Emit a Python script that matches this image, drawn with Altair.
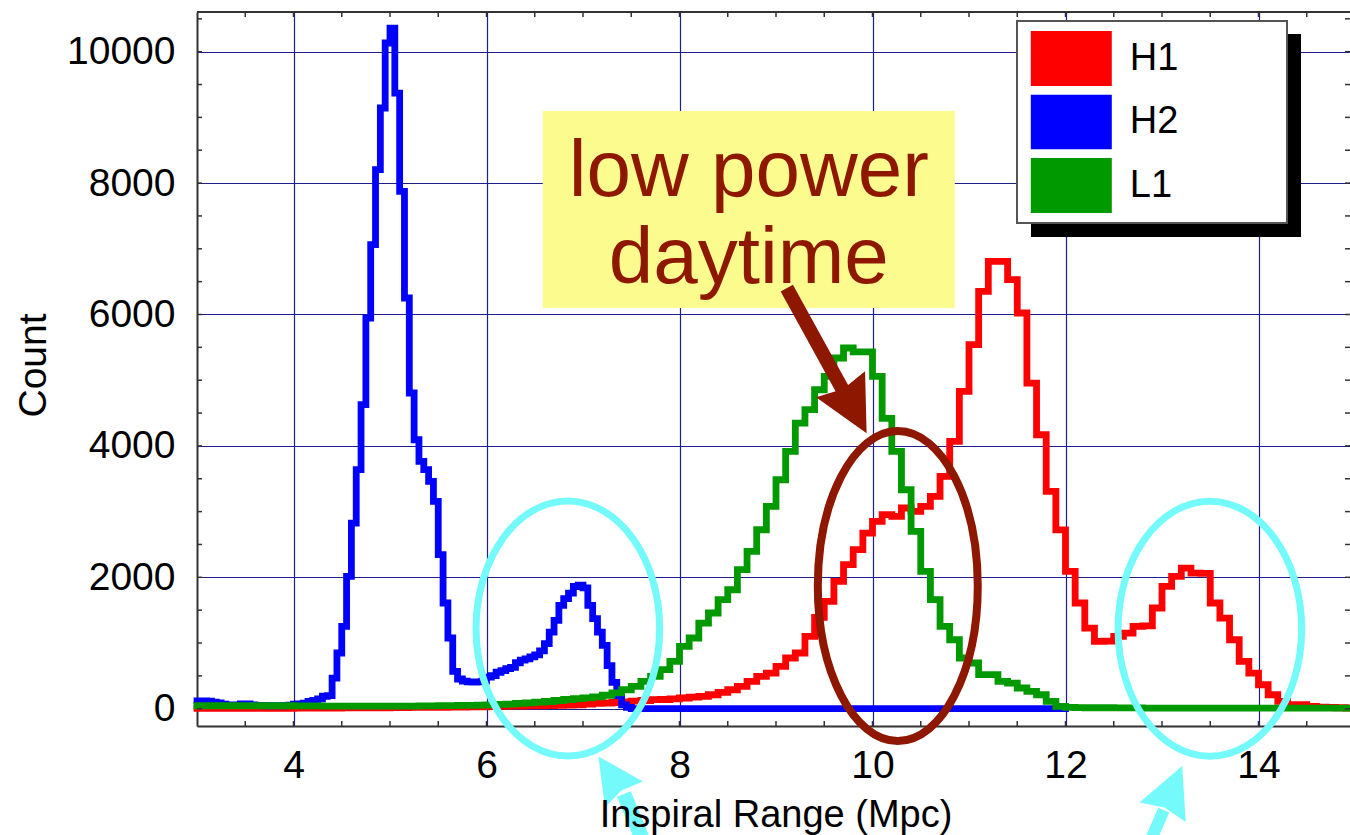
import altair as alt
import pandas as pd

FONT = "Liberation Sans"

# ---------------- histogram data ----------------
BIN_START = 3.0
WIDE_BIN = 0.1     # H1, L1 bin width (Mpc)
NARROW_BIN = 0.05  # H2 bin width (Mpc)

h1_counts = [
    5, 5, 5, 5, 5, 5, 5, 5, 5, 5,
    8, 8, 10, 10, 10, 12, 12, 12, 15, 15,
    18, 18, 20, 20, 22, 22, 25, 25, 28, 30,
    32, 35, 38, 40, 42, 45, 48, 52, 56, 60,
    70, 80, 87, 95, 105, 115, 125, 137, 140, 150,
    163, 175, 189, 213, 250, 289, 341, 417, 493, 543,
    645, 772, 848, 1102, 1390, 1634, 1939, 2192, 2420, 2674,
    2852, 2953, 2928, 3055, 3004, 3080, 3233, 3537, 4070, 4831,
    5540, 6353, 6810, 6810, 6530, 6023, 4957, 4170, 3309, 2721,
    2091, 1609, 1228, 1026, 1030, 1102, 1152, 1254, 1260, 1533,
    1863, 2015, 2141, 2065, 2060, 1609, 1380, 1050, 721, 543,
    365, 213, 112, 61, 61, 36, 25, 20, 15, 10,
]

l1_counts = [
    45, 45, 45, 45, 45, 45, 45, 45, 45, 45,
    42, 42, 42, 40, 40, 40, 40, 40, 40, 40,
    40, 40, 40, 42, 44, 46, 48, 50, 52, 55,
    60, 65, 70, 80, 90, 100, 110, 125, 140, 155,
    165, 180, 205, 240, 289, 341, 417, 493, 594, 721,
    950, 1076, 1304, 1457, 1659, 1811, 2116, 2396, 2724, 3080,
    3485, 3918, 4348, 4551, 4855, 5059, 5338, 5490, 5430, 5430,
    5059, 4420, 3918, 3333, 2700, 2091, 1659, 1254, 1050, 772,
    696, 518, 518, 417, 391, 315, 265, 213, 112, 36,
    20, 18, 15, 15, 15, 12, 12, 12, 10, 10,
    10, 10, 10, 10, 10, 10, 10, 10, 10, 10,
    10, 10, 10, 10, 10, 10, 10, 10, 10, 10,
]

h2_counts = [
    120, 120, 115, 100, 90, 70, 60, 55, 60, 75,
    75, 60, 50, 50, 45, 45, 45, 45, 50, 55,
    70, 75, 85, 110, 125, 150, 190, 200, 467, 848,
    1254, 2015, 2826, 3638, 4627, 5946, 7062, 8204, 9143, 10132,
    10360, 9370, 7875, 6251, 4805, 4094, 3765, 3638, 3461, 3157,
    2344, 1609, 1076, 569, 452, 420, 410, 405, 410, 420,
    480, 505, 555, 580, 610, 630, 700, 740, 760, 790,
    820, 880, 990, 1166, 1345, 1574, 1676, 1760, 1860, 1880,
    1840, 1574, 1370, 1166, 963, 657, 402, 199, 60, 20,
]
h2_flat_count = 0
h2_end = 12.0
h1_end = 15.0
l1_end = 15.0

series_names = ["H1", "H2", "L1"]
series_colors = ["#ff0000", "#0000ff", "#009900"]

# axis ticks / labels
x_label_values = [4, 6, 8, 10, 12, 14]
y_label_values = [0, 2000, 4000, 6000, 8000, 10000]
x_tick_values = [3.5, 4, 4.5, 5, 5.5, 6, 6.5, 7, 7.5, 8, 8.5, 9, 9.5, 10, 10.5,
                 11, 11.5, 12, 12.5, 13, 13.5, 14, 14.5]
y_tick_values = [0, 500, 1000, 1500, 2000, 2500, 3000, 3500, 4000, 4500, 5000,
                 5500, 6000, 6500, 7000, 7500, 8000, 8500, 9000, 9500, 10000, 10500]
x_title = "Inspiral Range (Mpc)"
y_title = "Count"

# annotations (data coordinates)
note_box = {"x1": 6.583, "x2": 10.853, "y1": 6099, "y2": 9097}
note_lines = ["low power", "daytime"]
note_x = 8.718
note_y = [7803, 6479]
brown_ellipse = {"x": 10.262, "y": 1867}
brown_shaft = {"x": 9.112, "y": 6403, "x2": 9.692, "y2": 4851}
brown_head = {"x": 9.804, "y": 4566}
cyan_ellipse_x = [6.843, 13.496]
cyan_ellipse_y = [1221, 1216]
cyan_shaft_x = [7.424, 13.018]
cyan_shaft_y = [-1298, -1542]
cyan_shaft_x2 = [7.703, 12.795]
cyan_shaft_y2 = [-2303, -2303]
cyan_shaft_w = [15, 12]
cyan_head_x = [7.292, 13.108]
cyan_head_y = [-1015, -1224]
cyan_head_angle = [326, 23]
cyan_head_size = [2100, 2520]

BROWN = "#8e1700"
CYAN = "#74fafa"
GRID = "#1e1e8c"
FRAME = "#333333"

W, H = 1153, 714


def steps(values, width, series, end):
    xs = [round(BIN_START + i * width, 4) for i in range(len(values))]
    ys = list(values)
    xs.append(end)
    ys.append(values[-1])
    return pd.DataFrame({"x": xs, "y": ys, "series": series})


df_h1 = steps(h1_counts, WIDE_BIN, "H1", h1_end)
df_l1 = steps(l1_counts, WIDE_BIN, "L1", l1_end)
df_h2 = steps(h2_counts + [h2_flat_count], NARROW_BIN, "H2", h2_end)

x_scale = alt.Scale(domain=[3.0, 3.0 + W / 96.5], nice=False, zero=False)
y_scale = alt.Scale(domain=[-263, 10604], nice=False, zero=False)
color_scale = alt.Scale(domain=series_names, range=series_colors)

# solid swatch built from stacked thick strokes (81 x 55 px)
SWATCH = "M-1,-0.52H1M-1,-0.26H1M-1,0H1M-1,0.26H1M-1,0.52H1"
legend = alt.Legend(
    orient="none", legendX=827.3, legendY=19, title=None,
    symbolType=SWATCH, symbolSize=6561, symbolStrokeWidth=13,
    clipHeight=55, rowPadding=8.5, labelOffset=11.5, padding=0,
    labelFont=FONT, labelFontSize=38, labelColor="black", symbolOpacity=1,
)

x_axis = alt.Axis(
    values=x_label_values, format="d", grid=True, gridColor=GRID, gridWidth=1.2,
    ticks=False, domain=True, domainColor=FRAME, domainWidth=2,
    labelFont=FONT, labelFontSize=39, labelColor="black", labelPadding=20,
    title=None,
)
y_axis = alt.Axis(
    values=y_label_values, format="d", grid=True, gridColor=GRID, gridWidth=1.2,
    ticks=False, domain=True, domainColor=FRAME, domainWidth=2,
    labelFont=FONT, labelFontSize=39, labelColor="black", labelPadding=22,
    title=y_title, titleFont=FONT, titleFontSize=39, titleFontWeight="normal",
    titleColor="black", titleAngle=270, titleX=-152, titleY=353,
    titleBaseline="alphabetic", titleAlign="center",
)


def line_layer(df, main_axes=False):
    if main_axes:
        xe = alt.X("x:Q", scale=x_scale, axis=x_axis)
        ye = alt.Y("y:Q", scale=y_scale, axis=y_axis)
    else:
        xe = alt.X("x:Q", scale=x_scale)
        ye = alt.Y("y:Q", scale=y_scale)
    return alt.Chart(df).mark_line(
        interpolate="step-after", strokeJoin="miter", strokeCap="square"
    ).encode(
        x=xe, y=ye,
        color=alt.Color("series:N", scale=color_scale, legend=legend),
        strokeWidth=alt.value(6.8),
    )


def X(field):
    return alt.X(field, scale=x_scale)


def Y(field):
    return alt.Y(field, scale=y_scale)


one = alt.Data(values=[{"a": 1}])

box_layer = alt.Chart(pd.DataFrame([note_box])).mark_rect(color="#fbfb8e").encode(
    x=X("x1:Q"), x2="x2:Q", y=Y("y1:Q"), y2="y2:Q",
)

legend_shadow = alt.Chart(one).mark_rect(color="black").encode(
    x=alt.value(834), x2=alt.value(1104), y=alt.value(22), y2=alt.value(225))
legend_box = alt.Chart(one).mark_rect(fill="white", stroke="#555555", strokeWidth=2).encode(
    x=alt.value(820), x2=alt.value(1090), y=alt.value(9), y2=alt.value(211))

xt = pd.DataFrame({"t": x_tick_values})
yt = pd.DataFrame({"t": y_tick_values})
tick_style = dict(color=FRAME, strokeWidth=1.5)
ticks_bottom = alt.Chart(xt).mark_rule(**tick_style).encode(
    x=X("t:Q"), y=alt.value(H), y2=alt.value(H - 5))
ticks_top = alt.Chart(xt).mark_rule(**tick_style).encode(
    x=X("t:Q"), y=alt.value(0), y2=alt.value(5))
ticks_left = alt.Chart(yt).mark_rule(**tick_style).encode(
    y=Y("t:Q"), x=alt.value(0), x2=alt.value(5))
ticks_right = alt.Chart(yt).mark_rule(**tick_style).encode(
    y=Y("t:Q"), x=alt.value(W), x2=alt.value(W - 5))
top_frame = alt.Chart(one).mark_rule(color=FRAME, strokeWidth=2).encode(
    x=alt.value(0), x2=alt.value(W), y=alt.value(0))

ellipse_brown = alt.Chart(pd.DataFrame([brown_ellipse])).mark_point(
    shape="M0,-1A0.516,1,0,1,1,0,1A0.516,1,0,1,1,0,-1Z",
    filled=False, stroke=BROWN, strokeWidth=8, opacity=1, size=96100,
).encode(x=X("x:Q"), y=Y("y:Q"))

shaft_brown = alt.Chart(pd.DataFrame([brown_shaft])).mark_rule(
    color=BROWN, strokeWidth=14, strokeCap="butt"
).encode(x=X("x:Q"), x2="x2:Q", y=Y("y:Q"), y2="y2:Q")

ARROW = "M0,-1L1,1L0,0.8L-1,1Z"
head_brown = alt.Chart(pd.DataFrame([brown_head])).mark_point(
    shape=ARROW, filled=True, fill=BROWN, opacity=1, size=3080, angle=152, strokeWidth=0,
).encode(x=X("x:Q"), y=Y("y:Q"))

ellipse_cyan = alt.Chart(pd.DataFrame({"x": cyan_ellipse_x, "y": cyan_ellipse_y})).mark_point(
    shape="M0,-1A0.72,1,0,1,1,0,1A0.72,1,0,1,1,0,-1Z",
    filled=False, stroke=CYAN, strokeWidth=7, opacity=1, size=65025,
).encode(x=X("x:Q"), y=Y("y:Q"))

shaft_cyan = alt.Chart(pd.DataFrame({"x": cyan_shaft_x, "y": cyan_shaft_y,
                                     "x2": cyan_shaft_x2, "y2": cyan_shaft_y2,
                                     "w": cyan_shaft_w})).mark_rule(
    color=CYAN, strokeCap="butt"
).encode(x=X("x:Q"), x2="x2:Q", y=Y("y:Q"), y2="y2:Q",
         strokeWidth=alt.StrokeWidth("w:Q", scale=None))

head_cyan = alt.Chart(pd.DataFrame({"x": cyan_head_x, "y": cyan_head_y,
                                    "ang": cyan_head_angle, "s": cyan_head_size})).mark_point(
    shape=ARROW, filled=True, fill=CYAN, opacity=1, strokeWidth=0,
).encode(x=X("x:Q"), y=Y("y:Q"), angle=alt.Angle("ang:Q", scale=None),
         size=alt.Size("s:Q", scale=None))

note_text = alt.Chart(pd.DataFrame({"x": [note_x, note_x], "y": note_y, "t": note_lines})).mark_text(
    font=FONT, fontSize=80, color=BROWN, align="center", baseline="alphabetic",
).encode(x=X("x:Q"), y=Y("y:Q"), text="t:N")

# x-axis title drawn above the cyan arrows, as in the original slide
x_title_layer = alt.Chart(alt.Data(values=[{"t": x_title}])).mark_text(
    font=FONT, fontSize=38, color="black", align="center", baseline="alphabetic",
).encode(x=alt.value(579), y=alt.value(815), text="t:N")

chart = alt.layer(
    line_layer(df_h1, main_axes=True),
    box_layer,
    legend_shadow,
    legend_box,
    line_layer(df_h2),
    line_layer(df_l1),
    ticks_bottom, ticks_top, ticks_left, ticks_right, top_frame,
    ellipse_brown, shaft_brown, head_brown,
    ellipse_cyan, shaft_cyan, head_cyan,
    note_text,
    x_title_layer,
).properties(
    width=W, height=H,
    padding={"left": 197, "top": 12, "right": 0, "bottom": 109},
    autosize=alt.AutoSizeParams(type="none"),
    background="white",
).configure_view(stroke="transparent")

chart.save("out.html", embed_options={"renderer": "svg", "actions": False})
